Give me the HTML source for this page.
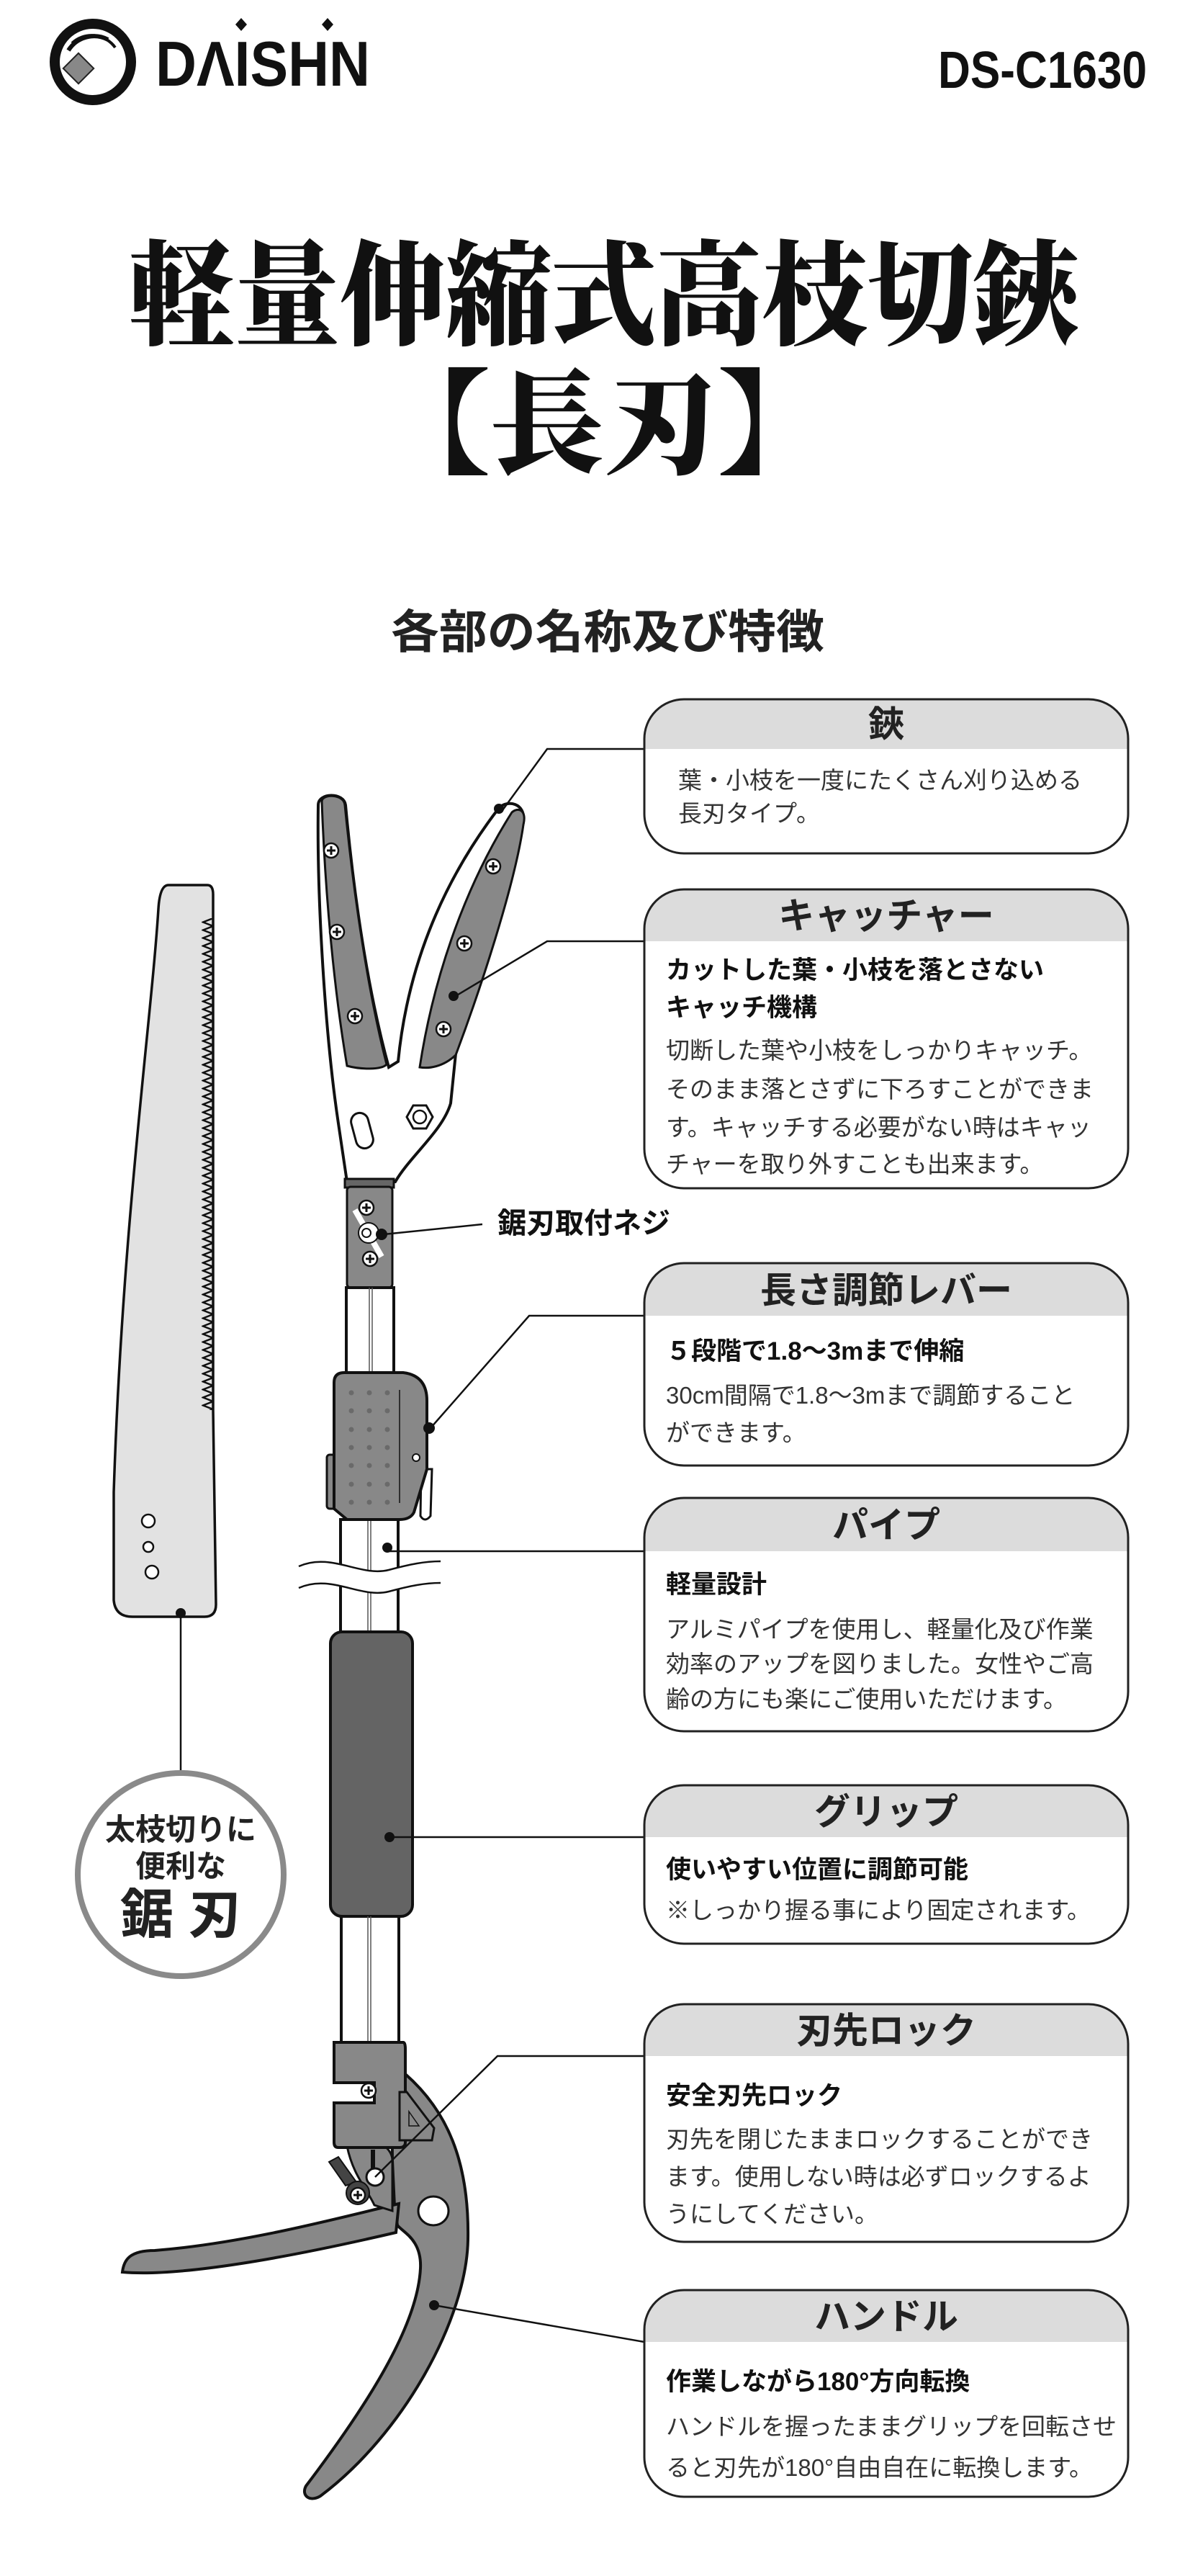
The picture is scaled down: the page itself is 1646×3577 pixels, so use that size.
<!DOCTYPE html>
<html><head><meta charset="utf-8">
<style>
html,body{margin:0;padding:0;background:#fff;}
svg{display:block;}
.s{font-family:"Liberation Sans","Noto Sans CJK JP",sans-serif;}
.hd{font-family:"Liberation Sans","Noto Sans CJK JP",sans-serif;font-weight:bold;font-size:50px;fill:#222;text-anchor:middle;}
.sub{font-family:"Liberation Sans","Noto Sans CJK JP",sans-serif;font-weight:bold;font-size:35px;fill:#111;}
.bd{font-family:"Liberation Sans","Noto Sans CJK JP",sans-serif;font-size:33px;fill:#333;}
.ln{stroke:#111;stroke-width:2.5;fill:none;}
</style></head>
<body>
<svg width="1646" height="3577" viewBox="0 0 1646 3577" xmlns="http://www.w3.org/2000/svg">
<defs>
<pattern id="teeth" patternUnits="userSpaceOnUse" x="280" y="1275" width="16" height="11">
<path d="M16 0 L2 5.5 L16 11" fill="none" stroke="#111" stroke-width="2.5"/>
</pattern>
<g id="screw"><circle r="10" fill="#fff" stroke="#111" stroke-width="2.5"/><path d="M-6 0H6M0 -6V6" stroke="#111" stroke-width="3"/></g>
</defs>

<!-- Logo -->
<circle cx="129" cy="86" r="53" fill="none" stroke="#111" stroke-width="14"/>
<path d="M95 70 A42 42 0 0 1 150 55" fill="none" stroke="#111" stroke-width="6"/>
<path d="M100 60 A40 40 0 0 1 160 66" fill="none" stroke="#111" stroke-width="4"/>
<rect x="94" y="80" width="30" height="30" transform="rotate(45 109 95)" fill="#888" stroke="#222" stroke-width="2"/>
<text x="216" y="119" class="s" font-weight="bold" font-size="88" textLength="298" lengthAdjust="spacingAndGlyphs" fill="#111">DΛISHN</text>
<path d="M335 25 l8 9 l-8 9 l-8 -9z M455 25 l8 9 l-8 9 l-8 -9z" fill="#111"/>
<text x="1593" y="122" class="s" font-weight="bold" font-size="72" text-anchor="end" textLength="290" lengthAdjust="spacingAndGlyphs" fill="#111">DS-C1630</text>

<!-- Titles -->
<text x="179" y="466" font-family="'Noto Serif CJK JP','Noto Serif CJK SC',serif" font-weight="900" font-size="158" textLength="1319" lengthAdjust="spacingAndGlyphs" fill="#111">軽量伸縮式高枝切鋏</text>
<text x="839" y="645" font-family="'Noto Serif CJK JP','Noto Serif CJK SC',serif" font-weight="900" font-size="158" text-anchor="middle" fill="#111">【長刃】</text>
<text x="543" y="900" class="s" font-weight="bold" font-size="64" textLength="602" lengthAdjust="spacingAndGlyphs" fill="#222">各部の名称及び特徴</text>

<!-- Saw blade -->
<path d="M234 1229 L288 1229 Q296 1229 296 1242 L296 1958 L300 2228 Q300 2245 284 2245 L184 2245 Q160 2245 158 2222 L158 2072 C170 1700 210 1420 220 1262 Q222 1229 234 1229 Z" fill="#e2e2e2" stroke="#111" stroke-width="3.5"/>
<rect x="280" y="1275" width="16" height="683" fill="url(#teeth)"/>
<circle cx="206" cy="2112" r="9" fill="#fff" stroke="#111" stroke-width="2.5"/>
<circle cx="206" cy="2148" r="7" fill="#fff" stroke="#111" stroke-width="2.5"/>
<circle cx="211" cy="2183" r="9" fill="#fff" stroke="#111" stroke-width="2.5"/>
<line x1="251" y1="2240" x2="251" y2="2462" class="ln"/>
<circle cx="251" cy="2240" r="7" fill="#111"/>
<ellipse cx="251" cy="2603" rx="143" ry="141" fill="#fff" stroke="#8a8a8a" stroke-width="8"/>
<text x="251" y="2555" class="s" font-weight="bold" font-size="42" text-anchor="middle" fill="#222">太枝切りに</text>
<text x="251" y="2606" class="s" font-weight="bold" font-size="42" text-anchor="middle" fill="#222">便利な</text>
<text x="251" y="2684" class="s" font-weight="bold" font-size="74" text-anchor="middle" fill="#222">鋸 刃</text>

<!-- Tool head -->
<path d="M482 1641 L470 1560 C452 1440 440 1250 442 1118 C442 1100 478 1100 480 1118 C492 1250 512 1380 540 1482 L553 1474 C565 1350 610 1230 693 1122 C705 1110 730 1115 727 1140 C715 1230 660 1370 633 1463 L626 1532 C615 1570 570 1605 549 1641 Z" fill="#fff" stroke="#111" stroke-width="4"/>
<path d="M447 1113 C447 1102 478 1102 479 1118 C492 1250 512 1380 537 1478 C530 1486 500 1485 482 1480 C465 1380 452 1250 447 1113 Z" fill="#888" stroke="#111" stroke-width="3"/>
<path d="M711 1128 C720 1120 732 1125 727 1145 C715 1230 665 1380 633 1465 C615 1482 595 1484 583 1482 C600 1370 640 1240 711 1128 Z" fill="#888" stroke="#111" stroke-width="3"/>
<path d="M553 1474 C565 1350 610 1230 693 1122" fill="none" stroke="#111" stroke-width="2"/>
<use href="#screw" x="460" y="1181"/><use href="#screw" x="468" y="1294"/><use href="#screw" x="493" y="1411"/>
<use href="#screw" x="685" y="1203"/><use href="#screw" x="645" y="1310"/><use href="#screw" x="616" y="1429"/>
<circle cx="630" cy="1383" r="7" fill="#111"/>
<circle cx="693" cy="1123" r="7" fill="#111"/>
<polygon points="565,1551 574,1535 592,1535 601,1551 592,1567 574,1567" fill="#fff" stroke="#111" stroke-width="3"/>
<circle cx="583" cy="1551" r="9" fill="none" stroke="#111" stroke-width="2.5"/>
<rect x="491" y="1545" width="24" height="50" rx="12" transform="rotate(-15 503 1570)" fill="#fff" stroke="#111" stroke-width="3"/>

<!-- collar & screw block -->
<rect x="479" y="1637" width="68" height="12" fill="#666" stroke="#111" stroke-width="3"/>
<rect x="482" y="1648" width="63" height="140" rx="5" fill="#888" stroke="#111" stroke-width="3"/>
<line x1="493" y1="1680" x2="530" y2="1745" stroke="#fff" stroke-width="8"/>
<circle cx="512" cy="1712" r="14" fill="#fff" stroke="#111" stroke-width="2"/>
<circle cx="509" cy="1712" r="6" fill="#fff" stroke="#111" stroke-width="2"/>
<use href="#screw" x="509" y="1677"/><use href="#screw" x="514" y="1748"/>
<circle cx="530" cy="1714" r="8" fill="#111"/>
<line x1="533" y1="1714" x2="670" y2="1700" class="ln"/>
<text x="691" y="1712" class="s" font-weight="bold" font-size="40" fill="#111">鋸刃取付ネジ</text>

<!-- upper pole -->
<rect x="481" y="1788" width="66" height="122" fill="#fff" stroke="#111" stroke-width="4"/>
<line x1="513" y1="1788" x2="513" y2="1910" stroke="#555" stroke-width="1.5"/><line x1="517" y1="1788" x2="517" y2="1910" stroke="#555" stroke-width="1.5"/>

<!-- lower pipe -->
<rect x="473" y="2110" width="80" height="160" fill="#fff" stroke="#111" stroke-width="4"/>
<line x1="511" y1="2110" x2="511" y2="2270" stroke="#555" stroke-width="1.5"/><line x1="515" y1="2110" x2="515" y2="2270" stroke="#555" stroke-width="1.5"/>
<path d="M415 2175 C460 2155 500 2190 540 2180 C570 2172 590 2168 612 2168 L612 2198 C590 2198 570 2202 540 2210 C500 2220 460 2185 415 2205 Z" fill="#fff"/>
<path d="M415 2175 C460 2155 500 2190 540 2180 C570 2172 590 2168 612 2168" class="ln" stroke-width="3"/>
<path d="M415 2205 C460 2185 500 2220 540 2210 C570 2202 590 2198 612 2198" class="ln" stroke-width="3"/>
<circle cx="538" cy="2149" r="7" fill="#111"/>

<!-- lever -->
<rect x="454" y="2020" width="16" height="75" rx="4" fill="#888" stroke="#111" stroke-width="3"/>
<path d="M585 2040 L600 2040 L598 2105 Q590 2115 584 2105 Z" fill="#fff" stroke="#111" stroke-width="3"/>
<path d="M478 1906 L560 1906 Q593 1910 593 1945 L593 2040 L575 2100 Q570 2110 555 2110 L482 2110 L464 2095 L464 1920 Q464 1906 478 1906 Z" fill="#888" stroke="#111" stroke-width="4"/>
<g fill="#6a6a6a">
<circle cx="488" cy="1934" r="3.5"/><circle cx="513" cy="1934" r="3.5"/><circle cx="538" cy="1934" r="3.5"/>
<circle cx="488" cy="1959" r="3.5"/><circle cx="513" cy="1959" r="3.5"/><circle cx="538" cy="1959" r="3.5"/>
<circle cx="488" cy="1985" r="3.5"/><circle cx="513" cy="1985" r="3.5"/><circle cx="538" cy="1985" r="3.5"/>
<circle cx="488" cy="2010" r="3.5"/><circle cx="513" cy="2010" r="3.5"/><circle cx="538" cy="2010" r="3.5"/>
<circle cx="488" cy="2035" r="3.5"/><circle cx="513" cy="2035" r="3.5"/><circle cx="538" cy="2035" r="3.5"/>
<circle cx="488" cy="2061" r="3.5"/><circle cx="513" cy="2061" r="3.5"/><circle cx="538" cy="2061" r="3.5"/>
<circle cx="488" cy="2086" r="3.5"/><circle cx="513" cy="2086" r="3.5"/><circle cx="538" cy="2086" r="3.5"/>
</g>
<line x1="555" y1="1930" x2="555" y2="2087" stroke="#111" stroke-width="1.5"/>
<circle cx="578" cy="2024" r="5" fill="#fff" stroke="#111" stroke-width="2"/>
<circle cx="596" cy="1983" r="8" fill="#111"/>

<!-- grip -->
<rect x="459" y="2266" width="114" height="395" rx="16" fill="#646464" stroke="#111" stroke-width="4"/>
<circle cx="541" cy="2551" r="7" fill="#111"/>
<!-- lower thin pipe -->
<rect x="474" y="2661" width="80" height="175" fill="#fff" stroke="#111" stroke-width="4"/>
<line x1="511" y1="2661" x2="511" y2="2836" stroke="#555" stroke-width="1.5"/><line x1="515" y1="2661" x2="515" y2="2836" stroke="#555" stroke-width="1.5"/>

<!-- handle -->
<path d="M544 2880 L563 2880 C620 2930 652 3000 650 3110 C648 3220 560 3380 445 3466 C430 3475 418 3465 425 3452 C510 3340 580 3230 584 3150 C586 3110 560 3100 552 3090 L548 3064 L545 3000 Z" fill="#888" stroke="#111" stroke-width="4"/>
<path d="M554 3060 C470 3080 340 3115 215 3125 C180 3125 172 3138 170 3155 C250 3162 400 3135 550 3100 Z" fill="#888" stroke="#111" stroke-width="4"/>
<path d="M482 2980 C515 2960 545 2980 545 3000 L545 3070 L520 3062 C510 3040 490 3020 482 2980Z" fill="#888" stroke="#111" stroke-width="3"/>
<path d="M464 2836 L560 2836 Q563 2836 563 2845 L563 2975 Q563 2982 555 2982 L470 2982 Q464 2982 464 2975 L464 2920 L520 2920 L520 2892 L464 2892 Z" fill="#888" stroke="#111" stroke-width="4"/>
<use href="#screw" x="512" y="2903"/>
<path d="M555 2905 L565 2905 L603 2955 L600 2972 L555 2972 Z" fill="#888" stroke="#111" stroke-width="3"/>
<path d="M568 2932 L582 2952 L568 2952 Z" fill="none" stroke="#111" stroke-width="1.5"/>
<rect x="515" y="2985" width="6" height="35" fill="#111"/>
<path d="M457 3002 L470 2995 L495 3030 L480 3035 Z" fill="#444" stroke="#111" stroke-width="2"/>
<circle cx="497" cy="3045" r="16" fill="#444" stroke="#111" stroke-width="2"/>
<use href="#screw" x="497" y="3048"/>
<circle cx="521" cy="3023" r="12" fill="#fff" stroke="#111" stroke-width="3"/>
<ellipse cx="602" cy="3070" rx="21" ry="20" fill="#fff" stroke="#111" stroke-width="3"/>
<circle cx="603" cy="3201" r="7" fill="#111"/>

<!-- connectors -->
<polyline points="895,1040 760,1040 698,1125" class="ln"/>
<polyline points="895,1307 760,1307 633,1383" class="ln"/>
<polyline points="895,1827 735,1827 598,1983" class="ln"/>
<polyline points="895,2154 541,2154" class="ln"/>
<polyline points="895,2551 541,2551" class="ln"/>
<polyline points="895,2855 691,2855 521,3023" class="ln"/>
<polyline points="895,3252 603,3201" class="ln"/>

<!-- boxes -->
<g id="boxes">
<clipPath id="c1"><rect x="895" y="971" width="672" height="214" rx="55"/></clipPath>
<rect x="895" y="971" width="672" height="214" rx="55" fill="#fff"/><rect x="895" y="971" width="672" height="69" fill="#dcdcdc" clip-path="url(#c1)"/>
<rect x="895" y="971" width="672" height="214" rx="55" fill="none" stroke="#222" stroke-width="3"/>
<text x="1231" y="1023" class="hd">鋏</text>
<text x="942" y="1095" class="bd">葉・小枝を一度にたくさん刈り込める</text>
<text x="942" y="1141" class="bd">長刃タイプ。</text>

<clipPath id="c2"><rect x="895" y="1235" width="672" height="415" rx="55"/></clipPath>
<rect x="895" y="1235" width="672" height="415" rx="55" fill="#fff"/><rect x="895" y="1235" width="672" height="72" fill="#dcdcdc" clip-path="url(#c2)"/>
<rect x="895" y="1235" width="672" height="415" rx="55" fill="none" stroke="#222" stroke-width="3"/>
<text x="1231" y="1289" class="hd">キャッチャー</text>
<text x="925" y="1359" class="sub">カットした葉・小枝を落とさない</text>
<text x="925" y="1411" class="sub">キャッチ機構</text>
<text x="925" y="1470" class="bd">切断した葉や小枝をしっかりキャッチ。</text>
<text x="925" y="1524" class="bd">そのまま落とさずに下ろすことができま</text>
<text x="925" y="1577" class="bd">す。キャッチする必要がない時はキャッ</text>
<text x="925" y="1628" class="bd">チャーを取り外すことも出来ます。</text>

<clipPath id="c3"><rect x="895" y="1754" width="672" height="281" rx="55"/></clipPath>
<rect x="895" y="1754" width="672" height="281" rx="55" fill="#fff"/><rect x="895" y="1754" width="672" height="73" fill="#dcdcdc" clip-path="url(#c3)"/>
<rect x="895" y="1754" width="672" height="281" rx="55" fill="none" stroke="#222" stroke-width="3"/>
<text x="1231" y="1809" class="hd">長さ調節レバー</text>
<text x="925" y="1888" class="sub">５段階で1.8～3mまで伸縮</text>
<text x="925" y="1949" class="bd">30cm間隔で1.8～3mまで調節すること</text>
<text x="925" y="2001" class="bd">ができます。</text>

<clipPath id="c4"><rect x="895" y="2080" width="672" height="324" rx="55"/></clipPath>
<rect x="895" y="2080" width="672" height="324" rx="55" fill="#fff"/><rect x="895" y="2080" width="672" height="74" fill="#dcdcdc" clip-path="url(#c4)"/>
<rect x="895" y="2080" width="672" height="324" rx="55" fill="none" stroke="#222" stroke-width="3"/>
<text x="1231" y="2135" class="hd">パイプ</text>
<text x="925" y="2212" class="sub">軽量設計</text>
<text x="925" y="2274" class="bd">アルミパイプを使用し、軽量化及び作業</text>
<text x="925" y="2322" class="bd">効率のアップを図りました。女性やご高</text>
<text x="925" y="2371" class="bd">齢の方にも楽にご使用いただけます。</text>

<clipPath id="c5"><rect x="895" y="2479" width="672" height="220" rx="55"/></clipPath>
<rect x="895" y="2479" width="672" height="220" rx="55" fill="#fff"/><rect x="895" y="2479" width="672" height="72" fill="#dcdcdc" clip-path="url(#c5)"/>
<rect x="895" y="2479" width="672" height="220" rx="55" fill="none" stroke="#222" stroke-width="3"/>
<text x="1231" y="2533" class="hd">グリップ</text>
<text x="925" y="2608" class="sub">使いやすい位置に調節可能</text>
<text x="925" y="2664" class="bd">※しっかり握る事により固定されます。</text>

<clipPath id="c6"><rect x="895" y="2783" width="672" height="330" rx="55"/></clipPath>
<rect x="895" y="2783" width="672" height="330" rx="55" fill="#fff"/><rect x="895" y="2783" width="672" height="72" fill="#dcdcdc" clip-path="url(#c6)"/>
<rect x="895" y="2783" width="672" height="330" rx="55" fill="none" stroke="#222" stroke-width="3"/>
<text x="1231" y="2837" class="hd">刃先ロック</text>
<text x="925" y="2922" class="sub">安全刃先ロック</text>
<text x="925" y="2982" class="bd">刃先を閉じたままロックすることができ</text>
<text x="925" y="3034" class="bd">ます。使用しない時は必ずロックするよ</text>
<text x="925" y="3086" class="bd">うにしてください。</text>

<clipPath id="c7"><rect x="895" y="3180" width="672" height="287" rx="55"/></clipPath>
<rect x="895" y="3180" width="672" height="287" rx="55" fill="#fff"/><rect x="895" y="3180" width="672" height="72" fill="#dcdcdc" clip-path="url(#c7)"/>
<rect x="895" y="3180" width="672" height="287" rx="55" fill="none" stroke="#222" stroke-width="3"/>
<text x="1231" y="3234" class="hd">ハンドル</text>
<text x="925" y="3319" class="sub">作業しながら180°方向転換</text>
<text x="925" y="3381" class="bd">ハンドルを握ったままグリップを回転させ</text>
<text x="925" y="3438" class="bd">ると刃先が180°自由自在に転換します。</text>
</g>
</svg>
</body></html>
